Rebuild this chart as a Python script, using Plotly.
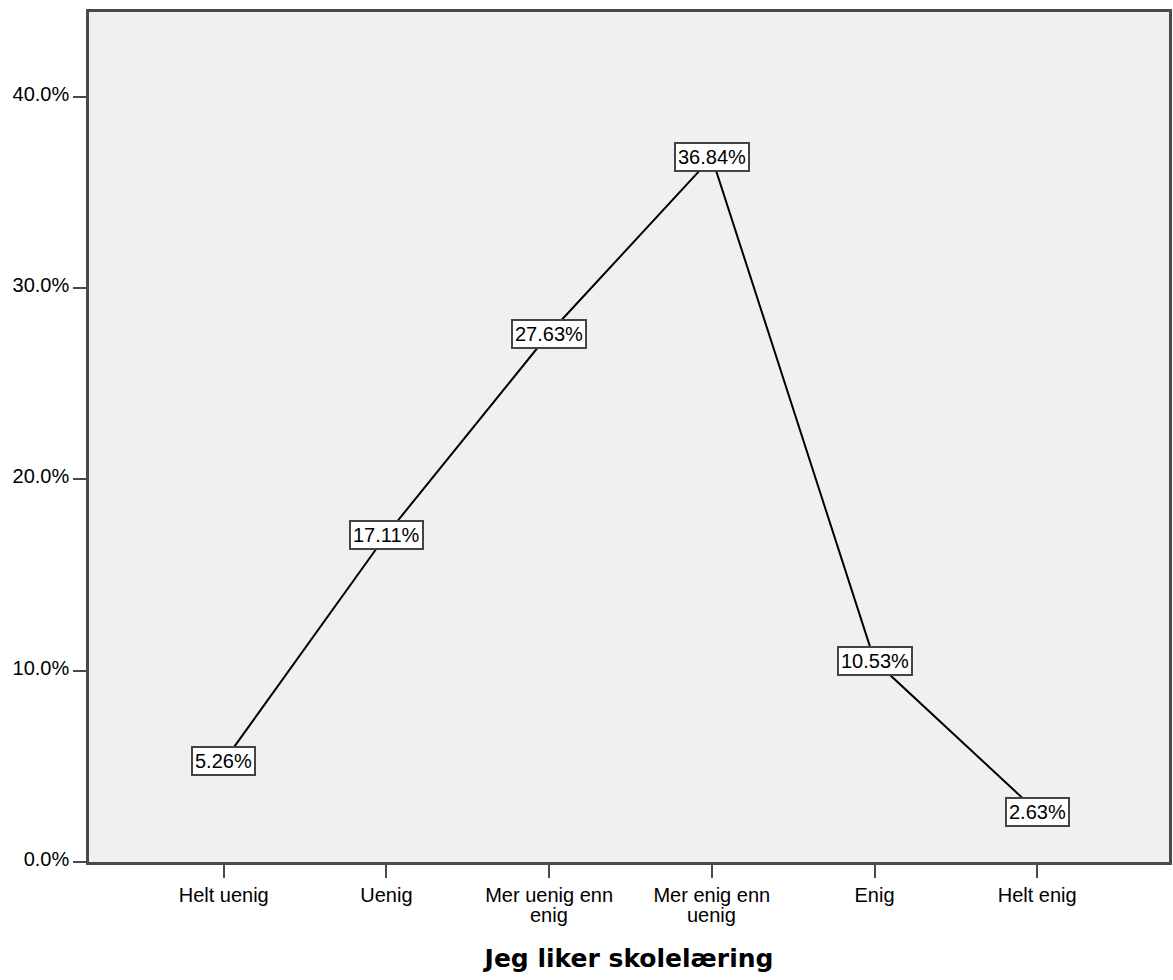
import plotly.graph_objects as go

tick_line1 = ["Helt uenig", "Uenig", "Mer uenig enn", "Mer enig enn", "Enig", "Helt enig"]
tick_line2 = ["", "", "enig", "uenig", "", ""]
percent = [5.26, 17.11, 27.63, 36.84, 10.53, 2.63]
y_ticks = [0, 10, 20, 30, 40]
y_ticklabels = ["0.0%", "10.0%", "20.0%", "30.0%", "40.0%"]
axis_title = "Jeg liker skolelæring"

x_idx = list(range(len(tick_line1)))
FONT = "Liberation Sans, Arial, sans-serif"

fig = go.Figure()
fig.add_trace(go.Scatter(x=x_idx, y=percent, mode="lines",
                         line=dict(color="black", width=2), hoverinfo="skip"))

for xi, v in zip(x_idx, percent):
    fig.add_annotation(x=xi, y=v, text=f"{v:.2f}%", showarrow=False,
                       font=dict(family=FONT, size=20, color="black"),
                       bgcolor="white", bordercolor="#444444", borderwidth=2, borderpad=2)

for xi, t in zip(x_idx, tick_line2):
    if t:
        fig.add_annotation(x=xi, y=0, xref="x", yref="paper", text=t, showarrow=False,
                           yanchor="middle", yshift=-53,
                           font=dict(family=FONT, size=20, color="black"))

fig.update_layout(
    width=1173, height=980,
    margin=dict(l=89, r=1, t=12, b=118),
    paper_bgcolor="white", plot_bgcolor="#F0F0F0",
    showlegend=False,
    font=dict(family=FONT, size=20, color="black"),
    xaxis=dict(range=[-0.828, 5.81], tickvals=x_idx, ticktext=tick_line1,
               showgrid=False, zeroline=False, showline=True, linecolor="#4a4a4a", linewidth=2.5,
               mirror=True, ticks="outside", ticklen=13, tickcolor="#4a4a4a", tickwidth=2,
               tickfont=dict(size=20),
               title=dict(text=f"<b>{axis_title}</b>",
                          font=dict(family="DejaVu Sans, Verdana, sans-serif", size=25),
                          standoff=45)),
    yaxis=dict(range=[0, 44.44], tickvals=y_ticks, ticktext=y_ticklabels,
               showgrid=False, zeroline=False, showline=True, linecolor="#4a4a4a", linewidth=2.5,
               mirror=True, ticks="outside", ticklen=13, tickcolor="#4a4a4a", tickwidth=2,
               tickfont=dict(size=20), ticklabelshift=-3),
)

fig.write_html("out.html", config={"responsive": False, "displayModeBar": False},
               post_script="document.body.style.margin='0';document.body.style.overflow='hidden';")
